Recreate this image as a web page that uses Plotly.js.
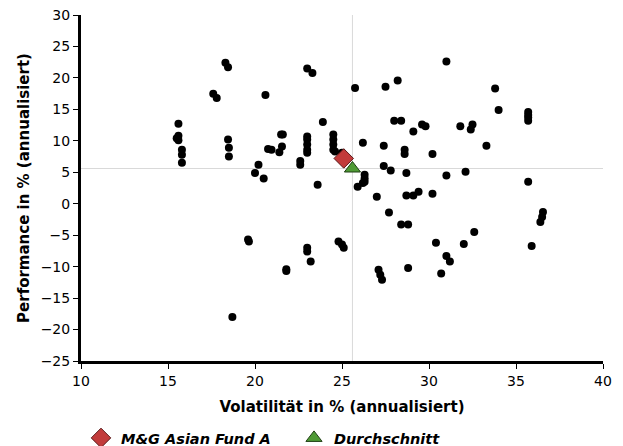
<!DOCTYPE html>
<html>
<head>
<meta charset="utf-8">
<script src="https://cdn.plot.ly/plotly-3.0.1.min.js"></script>
<style>html,body{margin:0;padding:0;background:#fff;}#chart{width:623px;height:446px;}</style>
</head>
<body>
<div id="chart"></div>
<script>
// Peer group funds: volatility (x) and performance (y)
const peerVol = [
  15.6,15.6,15.5,15.6,15.8,15.8,15.8,
  17.6,17.8,18.3,18.45,18.45,18.5,18.5,18.7,
  19.6,19.65,20.2,20.0,20.5,20.6,20.75,20.95,
  21.5,21.6,21.55,21.4,21.8,21.8,22.6,22.6,
  23.0,23.3,23.0,23.0,23.0,23.0,23.0,23.0,23.0,23.2,
  23.6,23.9,24.5,24.5,24.5,24.5,24.6,25.0,24.8,25.0,25.1,
  25.75,26.2,26.3,26.3,26.3,26.2,25.9,27.0,27.4,27.4,27.8,27.5,27.7,
  27.1,27.2,27.3,28.0,28.4,28.2,28.6,28.6,28.7,28.7,29.1,29.4,
  28.4,28.8,28.8,29.1,29.6,29.8,30.2,30.2,30.4,30.7,31.0,31.0,
  31.0,31.2,31.8,32.0,32.1,32.5,32.4,32.6,33.3,33.8,34.0,
  35.7,35.7,35.7,35.7,35.7,35.9,36.55,36.5,36.4
];
const peerPerf = [
  12.7,10.8,10.4,10.1,8.6,7.8,6.5,
  17.5,16.8,22.4,21.7,10.2,8.9,7.5,-18.0,
  -5.7,-6.0,6.2,4.9,4.0,17.3,8.7,8.6,
  11.0,11.0,9.1,8.2,-10.4,-10.7,6.8,6.2,
  21.5,20.8,10.7,10.2,9.4,8.6,8.1,-7.0,-7.6,-9.2,
  3.0,13.0,11.0,10.2,9.4,8.6,8.3,8.1,-6.0,-6.5,-7.0,
  18.4,9.7,4.6,4.0,3.5,3.3,2.7,1.1,9.2,6.0,5.3,18.6,-1.4,
  -10.5,-11.3,-12.1,13.2,13.2,19.6,8.6,7.9,4.9,1.3,1.3,1.9,
  -3.3,-3.3,-10.2,11.5,12.6,12.3,7.9,1.6,-6.2,-11.1,22.6,4.5,
  -8.3,-9.2,12.3,-6.4,5.1,12.6,11.8,-4.5,9.2,18.3,14.9,
  14.6,14.1,13.7,13.2,3.5,-6.7,-1.3,-2.1,-2.9
];
const fundName = "M&G Asian Fund A";
const fundVol = [25.1];
const fundPerf = [7.2];
const avgName = "Durchschnitt";
const avgVol = [25.6];
const avgPerf = [5.6];
const xTicks = [10,15,20,25,30,35,40];
const yTicks = [30,25,20,15,10,5,0,-5,-10,-15,-20,-25];

const traces = [
  {x: peerVol, y: peerPerf, type: 'scatter', mode: 'markers', showlegend: false,
   marker: {color: '#000', size: 8}, hoverinfo: 'x+y'},
  {x: fundVol, y: fundPerf, type: 'scatter', mode: 'markers', name: fundName,
   marker: {symbol: 'diamond', color: '#c23b3b', size: 15, line: {color: '#5a1a1a', width: 1}}},
  {x: avgVol, y: avgPerf, type: 'scatter', mode: 'markers', name: avgName,
   marker: {symbol: 'triangle-up', color: '#4f9a35', size: 14, line: {color: '#1f3f14', width: 1}}}
];

const layout = {
  width: 623, height: 446,
  margin: {l: 81, r: 20, t: 15, b: 85, autoexpand: false},
  paper_bgcolor: '#fff', plot_bgcolor: '#fff',
  font: {family: 'DejaVu Sans, Liberation Sans, sans-serif', size: 14, color: '#000'},
  showlegend: true,
  legend: {orientation: 'h', x: 0, xanchor: 'left', y: -0.2225, yanchor: 'middle',
           entrywidth: 168, entrywidthmode: 'pixels',
           itemclick: false, font: {size: 14.5, weight: 'bold', style: 'italic', color: '#000'}},
  xaxis: {range: [10, 40], tickvals: xTicks, ticks: 'outside', ticklen: 5, tickwidth: 1,
          tickcolor: '#000', showline: true, linewidth: 3, linecolor: '#000',
          showgrid: false, zeroline: false, fixedrange: true, automargin: false,
          tickfont: {size: 14},
          title: {text: 'Volatilität in % (annualisiert)', font: {size: 15, weight: 'bold'}, standoff: 14}},
  yaxis: {range: [-25, 30], tickvals: yTicks, ticks: 'outside', ticklen: 5, tickwidth: 1,
          tickcolor: '#000', showline: true, linewidth: 3, linecolor: '#000',
          showgrid: false, zeroline: false, fixedrange: true, automargin: false,
          tickfont: {size: 14},
          title: {text: 'Performance in % (annualisiert)', font: {size: 15, weight: 'bold'}, standoff: 8}},
  shapes: [
    {type: 'line', xref: 'paper', x0: 0, x1: 1, yref: 'y', y0: avgPerf[0], y1: avgPerf[0],
     line: {color: '#d9d9d9', width: 1}, layer: 'below'},
    {type: 'line', yref: 'paper', y0: 0, y1: 1, xref: 'x', x0: avgVol[0], x1: avgVol[0],
     line: {color: '#d9d9d9', width: 1}, layer: 'below'}
  ]
};

Plotly.newPlot('chart', traces, layout, {displayModeBar: false, staticPlot: true});
</script>
</body>
</html>
